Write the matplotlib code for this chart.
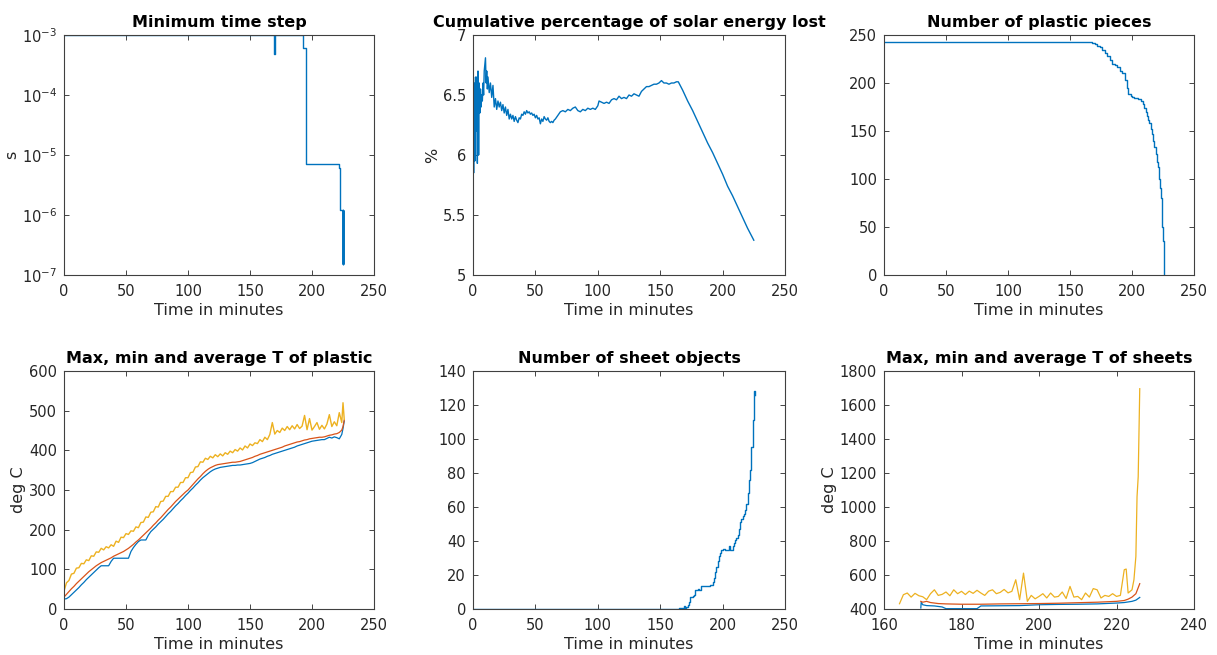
import numpy as np
import matplotlib
matplotlib.use("Agg")
import matplotlib.pyplot as plt
from matplotlib.ticker import NullLocator

# MATLAB default colours
BLUE = '#0072BD'
RED = '#D95319'
YELLOW = '#EDB120'
DARK = '#262626'

# Minimum time step (s)
t_dt = [0, 169.5, 170, 193, 195, 221.5, 222.3, 225, 225.1, 225.2, 225.3, 225.4]
min_dt = [1e-3, 4.8e-4, 1e-3, 6e-4, 7e-6, 6e-6, 1.2e-6, 1.5e-7, 1.2e-6, 1.5e-7, 1.2e-6, 1.5e-7]

# Cumulative percentage of solar energy lost
t_solar = [0, 0.2, 0.5, 1, 1.5, 2, 2.5, 3, 3.5, 4, 4.5, 5, 5.5, 6, 6.5, 7, 7.5, 8, 8.5, 9,
           10, 10.5, 11, 11.5, 12, 13, 14, 15, 16, 17, 18, 19, 20, 21, 22, 23, 24, 25, 26, 27,
           28, 29, 30, 31, 32, 33, 34, 35, 36, 37, 38, 39, 40, 41, 42, 43, 44, 45, 46, 47,
           48, 49, 50, 51, 52, 53, 54, 55, 56, 57, 58, 59, 60, 61, 62, 63, 64, 65, 66, 68,
           70, 72, 74, 76, 78, 80, 82, 84, 86, 88, 90, 92, 94, 96, 98, 100, 101, 103, 105, 107,
           109, 111, 113, 115, 117, 119, 121, 123, 125, 127, 129, 131, 133, 135, 137, 139, 141, 143, 145, 147,
           149, 151, 153, 155, 157, 159, 161, 163, 164.5, 168, 172, 176, 180, 184, 188, 192, 196, 200, 204, 208,
           212, 216, 220, 223, 225]
solar_lost = [5.0, 6.65, 5.85, 6.6, 5.95, 6.65, 6.2, 6.65, 5.93, 6.7, 6.0, 6.6, 6.35, 6.55, 6.4, 6.5, 6.45, 6.6, 6.5, 6.7,
              6.81, 6.6, 6.7, 6.55, 6.65, 6.52, 6.6, 6.48, 6.58, 6.4, 6.47, 6.38, 6.45, 6.4, 6.44, 6.37, 6.42, 6.35, 6.4, 6.33,
              6.38, 6.3, 6.34, 6.3, 6.33, 6.28, 6.32, 6.29, 6.27, 6.31, 6.3, 6.34, 6.33, 6.36, 6.34, 6.37, 6.35, 6.36, 6.34, 6.35,
              6.33, 6.34, 6.31, 6.33, 6.3, 6.31, 6.26, 6.3, 6.28, 6.32, 6.3, 6.29, 6.31, 6.28, 6.27, 6.28, 6.27, 6.29, 6.3, 6.33,
              6.36, 6.37, 6.36, 6.38, 6.37, 6.39, 6.4, 6.37, 6.36, 6.38, 6.37, 6.39, 6.38, 6.39, 6.38, 6.41, 6.45, 6.44, 6.43, 6.44,
              6.43, 6.46, 6.47, 6.46, 6.49, 6.47, 6.48, 6.47, 6.5, 6.49, 6.51, 6.5, 6.49, 6.53, 6.55, 6.57, 6.57, 6.58, 6.59, 6.59,
              6.6, 6.62, 6.6, 6.6, 6.59, 6.6, 6.6, 6.61, 6.61, 6.54, 6.45, 6.37, 6.28, 6.19, 6.1, 6.02, 5.93, 5.84, 5.74, 5.66,
              5.57, 5.48, 5.39, 5.33, 5.29]

# Number of plastic pieces
t_pieces = [0, 163, 165, 168, 170, 172, 174, 176, 178, 180, 182, 184, 186, 188, 190, 192, 194, 196, 197, 199,
            200, 202, 205, 207, 209, 210, 211, 212, 213, 214, 215, 216, 217, 218, 219, 220, 221, 222, 222.6, 223,
            224, 224.5, 225, 225.5, 226]
n_pieces = [243, 243, 242.5, 242, 241, 239, 237.5, 234, 231, 228, 224, 220, 219, 217, 213, 210, 203, 195, 189, 186,
            185, 184, 183, 181, 178, 174, 170, 166, 161, 158, 152, 147, 140, 133, 126, 118, 112, 100, 91, 80,
            60, 50, 35, 20, 1]

# Max, min and average T of plastic (deg C)
t_plastic = [0, 2, 4, 6, 8, 10, 12, 14, 16, 18, 20, 22, 24, 26, 28, 30, 32, 34, 36, 38,
             40, 42, 44, 46, 48, 50, 52, 54, 56, 58, 60, 62, 64, 66, 68, 70, 72, 74, 76, 78,
             80, 82, 84, 86, 88, 90, 92, 94, 96, 98, 100, 102, 104, 106, 108, 110, 112, 114, 116, 118,
             120, 122, 124, 126, 128, 130, 132, 134, 136, 138, 140, 142, 144, 146, 148, 150, 152, 154, 156, 158,
             160, 162, 164, 166, 168, 170, 172, 174, 176, 178, 180, 182, 184, 186, 188, 190, 192, 194, 196, 198,
             200, 202, 204, 206, 208, 210, 212, 214, 216, 218, 220, 222, 224, 225, 226]
plastic_min = [25, 26, 30, 36, 42, 48, 54, 61, 67, 74, 80, 86, 92, 98, 104, 109, 109, 109, 109, 120,
               128, 128, 128, 128, 128, 128, 128, 145, 155, 163, 170, 174, 174, 174, 186, 195, 201, 207, 214, 220,
               226, 233, 240, 246, 253, 260, 266, 273, 279, 286, 292, 299, 305, 312, 318, 325, 331, 336, 341, 346,
               350, 353, 355, 357, 358, 359, 360, 361, 362, 362, 363, 363, 364, 365, 366, 367, 369, 372, 375, 378,
               380, 382, 385, 387, 390, 392, 394, 396, 398, 400, 402, 404, 406, 408, 411, 413, 415, 417, 419, 421,
               423, 424, 425, 426, 427, 427, 430, 433, 431, 434, 432, 429, 440, 455, 474]
plastic_avg = [30, 37, 44, 51, 57, 64, 70, 76, 82, 88, 94, 99, 104, 109, 113, 117, 120, 123, 126, 129,
               133, 136, 139, 142, 145, 149, 153, 158, 163, 169, 174, 180, 186, 192, 198, 204, 211, 217, 224, 230,
               237, 244, 251, 257, 264, 271, 277, 283, 289, 295, 300, 307, 314, 321, 328, 334, 341, 347, 352, 356,
               359, 362, 364, 365, 366, 367, 368, 369, 370, 370, 371, 372, 374, 376, 378, 380, 382, 385, 387, 390,
               392, 394, 396, 398, 400, 402, 404, 406, 408, 411, 413, 415, 417, 419, 421, 422, 424, 426, 427, 429,
               430, 431, 432, 433, 433, 434, 436, 438, 439, 441, 442, 445, 451, 460, 476]
plastic_max = [45, 66, 72, 88, 90, 103, 104, 115, 114, 124, 122, 134, 133, 144, 143, 153, 149, 157, 154, 162,
               158, 171, 168, 181, 180, 190, 188, 197, 196, 207, 205, 218, 219, 232, 231, 244, 245, 258, 257, 271,
               272, 284, 284, 296, 296, 307, 307, 319, 319, 331, 331, 344, 345, 358, 359, 371, 370, 380, 377, 385,
               381, 389, 384, 391, 386, 394, 390, 398, 394, 402, 398, 406, 401, 411, 406, 416, 412, 419, 417, 427,
               422, 433, 427, 440, 470, 441, 450, 445, 456, 450, 460, 452, 462, 454, 465, 455, 461, 488, 452, 480,
               451, 460, 470, 453, 463, 454, 466, 490, 460, 472, 462, 495, 470, 520, 478]

# Number of sheet objects
t_sheets = [0, 163, 165, 168, 169, 170, 171, 172, 173, 174, 176, 177, 178, 179, 180, 181, 183, 185, 187, 190,
            192, 193, 194, 195, 196, 197, 198, 199, 200, 202, 204, 205, 206, 207, 208, 209, 210, 211, 212, 213,
            214, 215, 216, 217, 218, 219, 220, 221, 222, 223, 224, 225, 225.5, 226]
n_sheets = [0, 0, 0.5, 0.3, 1.5, 0, 1, 2.5, 4, 7, 7.4, 8, 11.3, 11, 12, 11, 13.3, 13.7, 13.5, 14.3,
            16, 18, 22, 25, 28, 31, 33, 35, 35.5, 35, 35, 37, 35, 35, 37, 39, 40.7, 42, 43.6, 47,
            51.4, 53, 55, 56, 58, 62, 68, 76, 82, 95.5, 111, 125, 128, 126]

# Max, min and average T of sheets (deg C)
t_sheet_max = [164, 165, 166, 167, 168, 169, 170, 171, 172, 173, 174, 175, 176, 177, 178, 179, 180, 181, 182, 183,
               184, 185, 186, 187, 188, 189, 190, 191, 192, 193, 194, 195, 196, 197, 198, 199, 200, 201, 202, 203,
               204, 205, 206, 207, 208, 209, 210, 211, 212, 213, 214, 215, 216, 217, 218, 219, 220, 221, 222, 222.5,
               223, 224, 224.5, 225, 225.3, 225.6, 226]
sheet_max = [431, 484, 494, 470, 492, 478, 472, 455, 490, 513, 480, 486, 500, 478, 513, 490, 504, 485, 505, 492,
             510, 494, 480, 505, 513, 490, 498, 515, 495, 504, 572, 455, 611, 445, 480, 460, 474, 490, 465, 494,
             470, 474, 500, 462, 533, 470, 474, 455, 494, 470, 520, 513, 465, 480, 474, 490, 474, 480, 631, 635,
             494, 513, 572, 709, 1061, 1178, 1696]
t_sheet_avg = [169.5, 170, 171, 172, 174, 176, 180, 185, 190, 195, 200, 205, 210, 215, 220, 222, 223, 224, 225, 226]
sheet_avg = [445, 440, 445, 438, 432, 430, 428, 428, 430, 431, 432, 434, 437, 440, 445, 450, 458, 470, 490, 549]
t_sheet_min = [169.5, 169.6, 170, 171, 173, 175, 176, 180, 184, 185, 190, 195, 200, 205, 210, 215, 220, 222, 224, 225, 226]
sheet_min = [406, 440, 425, 420, 418, 412, 402, 402, 402, 418, 419, 420, 425, 427, 428, 430, 435, 438, 445, 452, 468]

plt.rcParams['font.family'] = 'DejaVu Sans'
fig = plt.figure(figsize=(12.17, 6.55), dpi=100)
W, H = 1217, 655


def make_axes(left, top, right, bottom):
    ax = fig.add_axes([left / W, 1 - bottom / H, (right - left) / W, (bottom - top) / H])
    for s in ax.spines.values():
        s.set_color('#404040')
        s.set_linewidth(0.8)
    ax.tick_params(direction='in', top=True, right=True, length=3.5, width=0.6,
                   colors=DARK, labelsize=10.5, labelcolor=DARK)
    ax.tick_params(axis='x', pad=6.5)
    ax.tick_params(axis='y', pad=5)
    return ax


def finish(ax, title, ylabel=None):
    ax.set_title(title, fontsize=11.5, fontweight='bold', color='black', pad=6)
    ax.set_xlabel('Time in minutes', fontsize=11.5, color=DARK, labelpad=3)
    if ylabel:
        ax.set_ylabel(ylabel, fontsize=11.5, color=DARK, labelpad=2)


# top row
ax1 = make_axes(64, 35, 374, 275)
ax1.plot(t_dt, min_dt, color=BLUE, lw=1.0, drawstyle='steps-post')
ax1.set_yscale('log')
ax1.set_ylim(1e-7, 1e-3)
ax1.yaxis.set_minor_locator(NullLocator())
ax1.set_xlim(0, 250)
finish(ax1, 'Minimum time step', 's')

ax2 = make_axes(473, 35, 785, 275)
ax2.plot(t_solar, solar_lost, color=BLUE, lw=1.0)
ax2.set_xlim(0, 250)
ax2.set_ylim(5, 7)
ax2.set_yticks([5, 5.5, 6, 6.5, 7])
ax2.set_yticklabels(['5', '5.5', '6', '6.5', '7'])
finish(ax2, 'Cumulative percentage of solar energy lost', '%')

ax3 = make_axes(884, 35, 1194, 275)
ax3.plot(t_pieces, n_pieces, color=BLUE, lw=1.0, drawstyle='steps-post')
ax3.set_xlim(0, 250)
ax3.set_ylim(0, 250)
finish(ax3, 'Number of plastic pieces')

# bottom row
ax4 = make_axes(64, 371, 374, 609)
ax4.plot(t_plastic, plastic_min, color=BLUE, lw=0.9)
ax4.plot(t_plastic, plastic_avg, color=RED, lw=0.9)
ax4.plot(t_plastic, plastic_max, color=YELLOW, lw=1.0)
ax4.set_xlim(0, 250)
ax4.set_ylim(0, 600)
finish(ax4, 'Max, min and average T of plastic', 'deg C')

ax5 = make_axes(473, 371, 785, 609)
ax5.plot(t_sheets, n_sheets, color=BLUE, lw=1.0, drawstyle='steps-post')
ax5.set_xlim(0, 250)
ax5.set_ylim(0, 140)
finish(ax5, 'Number of sheet objects')

ax6 = make_axes(884, 371, 1194, 609)
ax6.plot(t_sheet_min, sheet_min, color=BLUE, lw=0.9)
ax6.plot(t_sheet_avg, sheet_avg, color=RED, lw=0.9)
ax6.plot(t_sheet_max, sheet_max, color=YELLOW, lw=0.9)
ax6.set_xlim(160, 240)
ax6.set_ylim(400, 1800)
finish(ax6, 'Max, min and average T of sheets', 'deg C')

fig.savefig('out.png', dpi=100)
